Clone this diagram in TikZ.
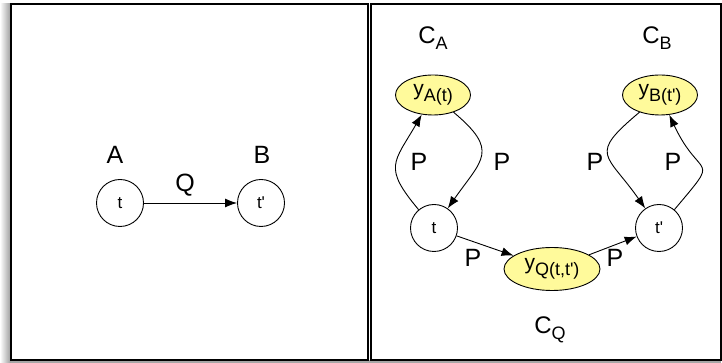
\documentclass[tikz,border=0pt]{standalone}
\usepackage{fontspec}
\setmainfont{Liberation Sans}
\usepackage{tikz}
\usetikzlibrary{arrows.meta}
\usetikzlibrary{shapes.geometric}
\definecolor{obsyellow}{RGB}{255,250,155}
\newcommand{\lowsub}[1]{\raisebox{-6pt}{\fontsize{18}{18}\selectfont #1}}
\newcommand{\prm}{\textquotesingle}
\tikzset{
  var/.style={circle,draw,line width=0.9pt,minimum size=47pt,inner sep=0pt,font=\fontsize{17}{17}\selectfont},
  obs/.style={ellipse,draw,line width=0.9pt,fill=obsyellow,inner sep=0pt,font=\fontsize{21}{21}\selectfont},
  lbl/.style={font=\fontsize{25}{25}\selectfont,inner sep=0pt},
  clbl/.style={font=\fontsize{24}{24}\selectfont,inner sep=0pt},
  link/.style={-{Latex[length=12pt,width=9pt]},line width=0.9pt},
  panel/.style={draw,line width=1.3pt}
}

\begin{document}
\begin{tikzpicture}[x=1pt,y=1pt]
  \useasboundingbox (0,0) rectangle (722,363);
  \shade[left color=white,right color=black!40] (0,0) rectangle (11,359);
  \fill[black!35] (11,0) rectangle (721,2.5);
  \draw[panel] (11,3) rectangle (368,359);
  \draw[panel] (371,3) rectangle (721,359);

  \node[var] (tl) at (120,160) {t};
  \node[var] (tpl) at (261,160) {t\prm};
  \node[lbl] (a) at (115,208) {A};
  \node[lbl] (b) at (262,208) {B};
  \draw[link] (tl) -- (tpl);
  \node[lbl] (q) at (185,178) {Q};

  \node[obs,minimum width=75pt,minimum height=40pt] (ya) at (433,268) {y\lowsub{A(t)}};
  \node[obs,minimum width=75pt,minimum height=40pt] (yb) at (660,268) {y\lowsub{B(t\prm)}};
  \node[obs,minimum width=96pt,minimum height=43pt] (yq) at (552,94) {y\lowsub{Q(t,t\prm)}};
  \node[var] (tr) at (434,135) {t};
  \node[var] (tpr) at (659,135) {t\prm};
  \node[clbl] (ca) at (433,325) {C\lowsub{A}};
  \node[clbl] (cb) at (657,325) {C\lowsub{B}};
  \node[clbl] (cq) at (550,33) {C\lowsub{Q}};

  \draw[link] (tr) to[out=130,in=240,looseness=1.5] (ya);
  \draw[link] (ya) to[out=-40,in=55,looseness=1.6] (tr);
  \draw[link] (yb) to[out=220,in=125,looseness=1.8] (tpr);
  \draw[link] (tpr) to[out=50,in=295,looseness=2] (yb);
  \draw[link] (tr) -- (yq);
  \draw[link] (yq) -- (tpr);

  \node[lbl] (p1) at (419,201) {P};
  \node[lbl] (p2) at (502,201) {P};
  \node[lbl] (p3) at (595,201) {P};
  \node[lbl] (p4) at (673,201) {P};
  \node[lbl] (p5) at (473,105) {P};
  \node[lbl] (p6) at (615,105) {P};
\end{tikzpicture}
\end{document}
